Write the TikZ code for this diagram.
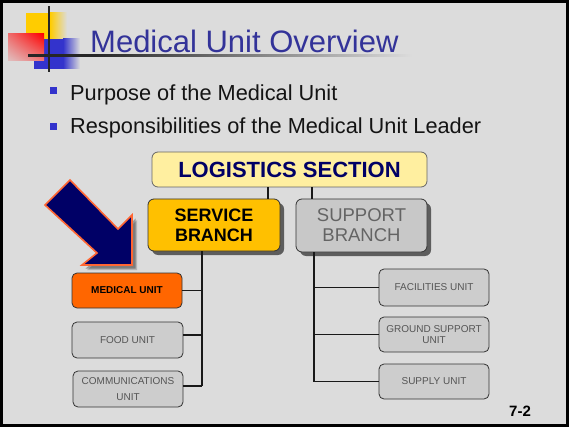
\documentclass[tikz,border=0pt]{standalone}
\usepackage{fontspec}
\setmainfont{Liberation Sans}
\usetikzlibrary{shadows,shadings}
\definecolor{bg}{RGB}{220,220,220}
\definecolor{titleblue}{RGB}{51,51,153}
\definecolor{bulletblue}{RGB}{51,51,204}
\definecolor{logoyellow}{RGB}{255,204,0}
\definecolor{logoblue}{RGB}{51,51,204}
\definecolor{logored}{RGB}{255,0,0}
\definecolor{navy}{RGB}{0,0,102}
\definecolor{arroworange}{RGB}{255,102,51}
\definecolor{logfill}{RGB}{255,239,160}
\definecolor{servfill}{RGB}{255,192,0}
\definecolor{suppfill}{RGB}{200,200,200}
\definecolor{unitfill}{RGB}{205,205,205}
\definecolor{unittext}{RGB}{85,85,85}
\definecolor{suptext}{RGB}{100,100,100}
\definecolor{medfill}{RGB}{255,102,0}
\definecolor{boxline}{RGB}{51,51,51}
\definecolor{linecol}{RGB}{25,25,25}
\tikzset{
  unitbox/.style={draw=boxline, line width=0.8pt, rounded corners=5pt, fill=unitfill,
    minimum width=110pt, minimum height=35pt, inner sep=0pt, align=center,
    text=unittext, font=\fontsize{10}{16}\selectfont},
  bigbox/.style={draw=boxline, line width=0.8pt, rounded corners=6pt, inner sep=0pt, align=center},
  brshadow/.style={drop shadow={shadow xshift=4pt, shadow yshift=-4pt, opacity=.75, fill=black!80}},
  conn/.style={draw=linecol, line width=1.3pt},
  bsq/.style={fill=bulletblue, minimum size=7pt, inner sep=0pt},
  bullettext/.style={anchor=base west, text=black!92, inner sep=0pt, font=\fontsize{21.75}{24}\selectfont}
}
\begin{document}
\begin{tikzpicture}[x=1pt,y=-1pt]
\useasboundingbox (0,0) rectangle (569,427);
\fill[black] (0,0) rectangle (569,427);
\fill[bg] (3,3) rectangle (566,424);
% logo
\fill[logoyellow] (26,13) rectangle (50,39);
\shade[left color=logoyellow, right color=bg] (50,13) rectangle (67,39);
\fill[logoblue] (34,39) rectangle (63,69);
\shade[left color=logoblue, right color=bg] (63,39) rectangle (80,69);
\shade[upper right=logored, upper left=logored!50!bg, lower right=logored!45!bg, lower left=logored!12!bg] (8,34) rectangle (44,61);
\fill[black!85] (28,54.5) rectangle (95,57);
\shade[left color=black!85, right color=bg] (95,54.5) rectangle (412,57);
\fill[black!85] (48,6) rectangle (50.2,72);
% title and bullets
\node[anchor=base west, inner sep=0pt, text=titleblue, font=\fontsize{31}{31}\selectfont] (title) at (90,53) {Medical Unit Overview};
\node[bsq] (sq1) at (53.5,90.5) {};
\node[bsq] (sq2) at (53.5,126.5) {};
\node[bullettext] (b1) at (70,101) {Purpose of the Medical Unit};
\node[bullettext] (b2) at (70,134) {Responsibilities of the Medical Unit Leader};
% arrow
\begin{scope}[shift={(5,5)}]
\fill[black, opacity=.18] (70,180) -- (45,205) -- (97,253) -- (82,265) -- (132,265) -- (132,215) -- (118,229) -- cycle;
\end{scope}
\begin{scope}[shift={(3.5,3.5)}]
\fill[black, opacity=.3] (70,180) -- (45,205) -- (97,253) -- (82,265) -- (132,265) -- (132,215) -- (118,229) -- cycle;
\end{scope}
\filldraw[fill=navy, draw=arroworange, line width=1.6pt, line join=miter] (70,180) -- (45,205) -- (97,253) -- (82,265) -- (132,265) -- (132,215) -- (118,229) -- cycle;
% org chart boxes
\node[bigbox, fill=logfill, draw=black!60, minimum width=275pt, minimum height=35pt, text=navy, font=\bfseries\fontsize{22}{22}\selectfont] (logistics) at (289.5,169.5) {LOGISTICS SECTION};
\node[bigbox, brshadow, fill=servfill, minimum width=132pt, minimum height=52pt, text=black, font=\bfseries\fontsize{18}{20}\selectfont] (service) at (214,225) {SERVICE\\BRANCH};
\node[bigbox, brshadow, fill=suppfill, minimum width=131pt, minimum height=53pt, text=suptext, font=\fontsize{18.5}{20}\selectfont] (support) at (361.5,225.5) {SUPPORT\\BRANCH};
\node[unitbox, fill=medfill, text=black, font=\bfseries\fontsize{10}{12}\selectfont] (medical) at (127,290.5) {MEDICAL UNIT};
\node[unitbox, minimum width=111pt, minimum height=36pt] (food) at (127.5,340) {FOOD UNIT};
\node[unitbox, minimum height=36pt] (comms) at (128,389) {COMMUNICATIONS\\UNIT};
\node[unitbox, minimum height=37pt] (facilities) at (434,287.5) {FACILITIES UNIT};
\node[unitbox, font=\fontsize{10}{11.5}\selectfont] (ground) at (434,334.5) {GROUND SUPPORT\\UNIT};
\node[unitbox] (supply) at (434,381.5) {SUPPLY UNIT};
\node[anchor=base, inner sep=0pt, font=\bfseries\fontsize{15}{15}\selectfont] (page) at (520,416) {7-2};
% connectors
\coordinate (xl) at (268,0);
\coordinate (xr) at (312,0);
\coordinate (xs) at (202,0);
\coordinate (xp) at (314,0);
\coordinate (fst) at ([yshift=5pt]food.east);
\coordinate (cst) at ([yshift=3pt]comms.east);
\draw[conn] (logistics.south -| xl) -- (service.north -| xl);
\draw[conn] (logistics.south -| xr) -- (support.north -| xr);
\draw[conn] (service.south -| xs) -- (cst -| xs);
\draw[conn] (medical.east) -- (medical.east -| xs);
\draw[conn] (fst) -- (fst -| xs);
\draw[conn] (cst) -- (cst -| xs);
\draw[conn] (support.south -| xp) -- (supply.west -| xp);
\draw[conn] (facilities.west) -- (facilities.west -| xp);
\draw[conn] (ground.west) -- (ground.west -| xp);
\draw[conn] (supply.west) -- (supply.west -| xp);
\end{tikzpicture}
\end{document}
